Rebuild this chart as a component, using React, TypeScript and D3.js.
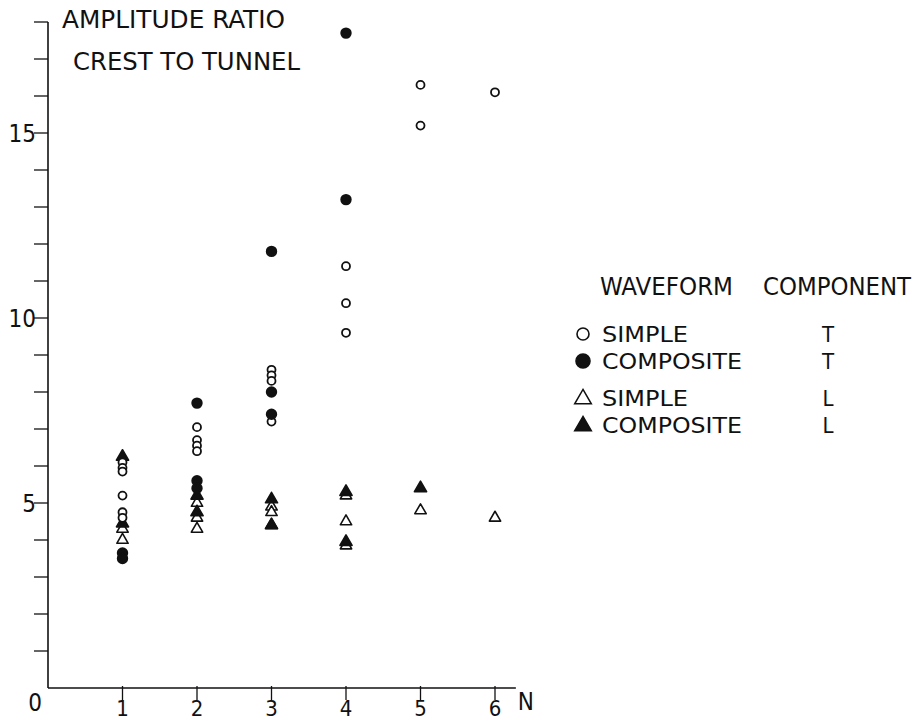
import React, { useEffect, useRef } from "react";
import * as d3 from "d3";

// values, grouped by N
const nValues = [1, 2, 3, 4, 5, 6];
const simpleT = [
  [6.1, 5.95, 5.85, 5.2, 4.75, 4.6],
  [7.05, 6.7, 6.55, 6.4],
  [8.6, 8.45, 8.3, 7.2],
  [11.4, 10.4, 9.6],
  [16.3, 15.2],
  [16.1],
];
const compositeT = [[3.65, 3.5], [7.7, 5.6, 5.4], [11.8, 8.0, 7.4], [17.7, 13.2], [], []];
const simpleL = [[4.3, 4.0], [5.0, 4.6, 4.3], [4.9, 4.75, 4.4], [5.2, 4.5, 3.85], [4.8], [4.6]];
const compositeL = [[6.25, 4.45], [5.2, 4.75], [5.1, 4.4], [5.3, 3.95], [5.4], []];

const yLabels = [0, 5, 10, 15];
const legendRows = [
  { kind: "circle", filled: false, wave: "SIMPLE", comp: "T" },
  { kind: "circle", filled: true, wave: "COMPOSITE", comp: "T" },
  { kind: "triangle", filled: false, wave: "SIMPLE", comp: "L" },
  { kind: "triangle", filled: true, wave: "COMPOSITE", comp: "L" },
];

const FONT = "'DejaVu Sans Condensed', 'DejaVu Sans', sans-serif";

const App = () => {
  const ref = useRef<SVGSVGElement>(null);

  useEffect(() => {
    const svg = d3.select(ref.current);
    svg.selectAll("*").remove();

    const x = d3.scaleLinear().domain([0, 6]).range([48, 495]);
    const y = d3.scaleLinear().domain([0, 15]).range([688, 133]);
    const ink = "#111";

    const g = svg.append("g");

    // axes
    g.append("line").attr("x1", x(0)).attr("x2", x(6.28)).attr("y1", y(0)).attr("y2", y(0))
      .attr("stroke", ink).attr("stroke-width", 1.6);
    g.append("line").attr("x1", x(0)).attr("x2", x(0)).attr("y1", y(0)).attr("y2", y(18))
      .attr("stroke", ink).attr("stroke-width", 1.6);

    g.selectAll(".ytick").data(d3.range(1, 19)).enter().append("line")
      .attr("x1", x(0) - 14).attr("x2", x(0))
      .attr("y1", (d) => y(d)).attr("y2", (d) => y(d))
      .attr("stroke", ink).attr("stroke-width", 1.3);

    g.selectAll(".ylab").data(yLabels).enter().append("text")
      .attr("x", (d) => (d === 0 ? x(0) - 6 : x(0) - 12))
      .attr("y", (d) => (d === 0 ? y(d) + 23 : y(d) + 9))
      .attr("text-anchor", "end")
      .style("font-family", FONT).style("font-size", "24px").style("fill", ink)
      .text((d) => d);

    g.selectAll(".xtick").data(nValues).enter().append("line")
      .attr("x1", (d) => x(d)).attr("x2", (d) => x(d))
      .attr("y1", y(0) - 2).attr("y2", y(0) + 12)
      .attr("stroke", ink).attr("stroke-width", 1.3);

    g.selectAll(".xlab").data(nValues).enter().append("text")
      .attr("x", (d) => x(d)).attr("y", 716)
      .attr("text-anchor", "middle")
      .style("font-family", FONT).style("font-size", "22px").style("fill", ink)
      .text((d) => d);

    g.append("text").attr("x", x(6.28) + 2).attr("y", y(0) + 22)
      .style("font-family", FONT).style("font-size", "24px").style("fill", ink).text("N");

    // titles
    const title = (t: string, tx: number, ty: number, len: number) =>
      g.append("text").attr("x", tx).attr("y", ty)
        .attr("textLength", len).attr("lengthAdjust", "spacingAndGlyphs")
        .style("font-family", FONT).style("font-size", "25px").style("fill", ink).text(t);
    title("AMPLITUDE RATIO", 62, 28, 223);
    title("CREST TO TUNNEL", 73, 70, 227);

    // markers
    const tri = d3.symbol().type(d3.symbolTriangle);
    const flat = (arr: number[][]) =>
      arr.flatMap((vals, i) => vals.map((v) => ({ n: nValues[i], v })));

    const drawCircles = (data: number[][], filled: boolean) =>
      g.append("g").selectAll("circle").data(flat(data)).enter().append("circle")
        .attr("cx", (d) => x(d.n)).attr("cy", (d) => y(d.v))
        .attr("r", filled ? 4.8 : 4)
        .attr("fill", filled ? ink : "white")
        .attr("stroke", ink).attr("stroke-width", 1.8);

    const drawTriangles = (data: number[][], filled: boolean) =>
      g.append("g").selectAll("path").data(flat(data)).enter().append("path")
        .attr("d", tri.size(filled ? 64 : 56)())
        .attr("transform", (d) => `translate(${x(d.n)},${y(d.v)})`)
        .attr("fill", filled ? ink : "white")
        .attr("stroke", ink).attr("stroke-width", 1.6)
        .attr("stroke-linejoin", "round");

    drawTriangles(simpleL, false);
    drawTriangles(compositeL, true);
    drawCircles(simpleT, false);
    drawCircles(compositeT, true);

    // legend
    const lg = g.append("g");
    const head = (t: string, tx: number, len: number) =>
      lg.append("text").attr("x", tx).attr("y", 295)
        .attr("textLength", len).attr("lengthAdjust", "spacingAndGlyphs")
        .style("font-family", FONT).style("font-size", "24px").style("fill", ink).text(t);
    head("WAVEFORM", 600, 133);
    head("COMPONENT", 763, 148);

    const rowY = [334, 361, 398, 425];
    legendRows.forEach((r, i) => {
      const cy = rowY[i];
      if (r.kind === "circle") {
        lg.append("circle").attr("cx", 583).attr("cy", cy)
          .attr("r", r.filled ? 7 : 6)
          .attr("fill", r.filled ? ink : "white")
          .attr("stroke", ink).attr("stroke-width", 1.6);
      } else {
        lg.append("path").attr("d", tri.size(120)())
          .attr("transform", `translate(583,${cy + 1})`)
          .attr("fill", r.filled ? ink : "white")
          .attr("stroke", ink).attr("stroke-width", 1.5);
      }
      lg.append("text").attr("x", 602).attr("y", cy + 8)
        .attr("textLength", r.wave === "SIMPLE" ? 86 : 140).attr("lengthAdjust", "spacingAndGlyphs")
        .style("font-family", FONT).style("font-size", "22px").style("fill", ink).text(r.wave);
      lg.append("text").attr("x", 828).attr("y", cy + 8).attr("text-anchor", "middle")
        .style("font-family", FONT).style("font-size", "22px").style("fill", ink).text(r.comp);
    });
  }, []);

  return (
    <svg
      ref={ref}
      width={914}
      height={724}
      style={{ position: "absolute", left: 0, top: 0, background: "white" }}
    />
  );
};

export default App;
